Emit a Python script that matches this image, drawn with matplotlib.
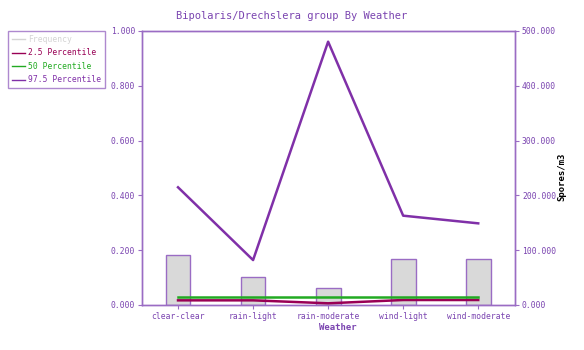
import matplotlib
matplotlib.use("Agg")
import matplotlib.pyplot as plt
from matplotlib.lines import Line2D

categories = ["clear-clear", "rain-light", "rain-moderate", "wind-light", "wind-moderate"]
frequency = [0.182, 0.101, 0.061, 0.167, 0.167]
p2_5 = [8500, 8500, 3100, 9100, 9100]
p50 = [15000, 15000, 15000, 15000, 15000]
p97_5 = [214800, 82000, 480500, 163000, 149000]

left_ticks = [0.0, 0.2, 0.4, 0.6, 0.8, 1.0]
right_ticks = [0, 100000, 200000, 300000, 400000, 500000]

axis_col = "#9a6cc4"
text_col = "#7a44b0"
c_freq = "#d4d4d4"
c_p2 = "#990055"
c_p50 = "#22aa22"
c_p97 = "#8030a8"

plt.rcParams["font.family"] = "DejaVu Sans Mono"

fig = plt.figure(figsize=(5.84, 3.5), dpi=100)
ax = fig.add_axes([142 / 584, 45 / 350, (515 - 142) / 584, (305 - 31) / 350])
ax2 = ax.twinx()

x = list(range(len(categories)))
ax.bar(x, frequency, width=0.33, color="#d9d9d9", edgecolor=axis_col, linewidth=1.0, zorder=2)
ax.set_ylim(0, 1.0)
ax.set_xlim(-0.48, 4.49)
ax.set_yticks(left_ticks)
ax.set_yticklabels([f"{v:.3f}" for v in left_ticks])
ax.set_xticks(x)
ax.set_xticklabels(categories)

ax2.plot(x, p2_5, color=c_p2, lw=1.8, zorder=3)
ax2.plot(x, p50, color=c_p50, lw=1.8, zorder=3)
ax2.plot(x, p97_5, color=c_p97, lw=1.8, zorder=3)
ax2.set_ylim(0, 500000)
ax2.set_yticks(right_ticks)
ax2.set_yticklabels([f"{v // 1000}.000" if v else "0.000" for v in right_ticks])

for a in (ax, ax2):
    for s in a.spines.values():
        s.set_color(axis_col)
        s.set_linewidth(1.0)
    a.tick_params(colors=axis_col, labelcolor=text_col, labelsize=5.8, length=3, width=0.8, pad=2)

fig.text(0.5, 1 - 16 / 350, "Bipolaris/Drechslera group By Weather", ha="center", va="center",
         fontsize=7.5, color=text_col)
fig.text(338 / 584, 1 - 328 / 350, "Weather", ha="center", va="center", fontsize=6.5,
         fontweight="bold", color=text_col)
fig.text(562 / 584, 1 - 177 / 350, "Spores/m3", ha="center", va="center", rotation=90,
         fontsize=6.5, fontweight="bold", color="black")

handles = [Line2D([], [], color=c, lw=1.0) for c in (c_freq, c_p2, c_p50, c_p97)]
labels = ["Frequency", "2.5 Percentile", "50 Percentile", "97.5 Percentile"]
leg = fig.legend(handles, labels, loc="upper left", bbox_to_anchor=(8 / 584, 1 - 31 / 350),
                 fontsize=5.8, frameon=True, fancybox=False, handlelength=1.6,
                 handletextpad=0.4, borderpad=0.5, labelspacing=0.55, borderaxespad=0)
leg.get_frame().set_edgecolor(axis_col)
leg.get_frame().set_linewidth(1.0)
for t, c in zip(leg.get_texts(), (c_freq, c_p2, c_p50, c_p97)):
    t.set_color(c)

fig.savefig("out.png", dpi=100)
